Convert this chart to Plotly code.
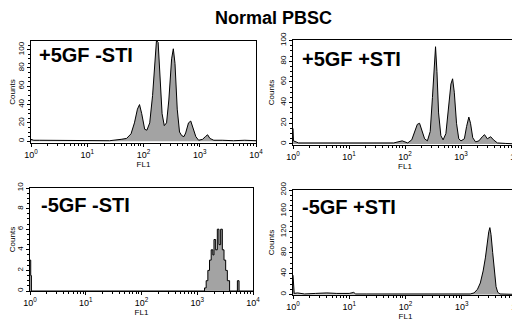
import plotly.graph_objects as go

# ---- data (FL1 channel value, counts) ----
p1_fl1 = [1, 1.12, 1.41, 2, 3.16, 6.3, 10, 15.8, 25, 40, 50, 60, 69, 78, 85, 93, 105, 115, 129, 145,
          158, 170, 182, 195, 214, 234, 257, 282, 316, 339, 363, 398, 437, 479, 525, 562, 631, 692,
          759, 851, 955, 1122, 1259, 1380, 1514, 1778, 2512, 3981, 6310, 10000]
p1_cnt = [2, 1, 1, 1, 0.5, 1, 0.5, 1, 0.5, 2, 3, 8, 20, 35, 40, 30, 13, 12, 20, 50,
          90, 110, 108, 70, 30, 17, 20, 45, 90, 101, 85, 35, 10, 6, 5, 9, 20, 22,
          15, 5, 1, 2, 5, 7, 3, 1, 1, 0.5, 1, 0.5]

p2_fl1 = [1, 1.02, 1.26, 2, 4, 7.9, 15.8, 31.6, 63, 89, 112, 132, 151, 166, 182, 200, 224, 251, 282,
          309, 331, 351, 372, 398, 437, 479, 537, 603, 661, 708, 759, 832, 912, 1000, 1148, 1259,
          1380, 1479, 1622, 1820, 2089, 2399, 2630, 2951, 3388, 3802, 4467, 6310, 10000]
p2_cnt = [15, 3, 1, 1, 0.5, 1, 0.5, 1, 1, 3, 1, 4, 12, 19, 20, 12, 5, 3, 12,
          45, 75, 94, 70, 30, 8, 4, 10, 35, 58, 63, 50, 20, 5, 3, 5, 17,
          26, 20, 6, 2, 3, 7, 9, 5, 7, 4, 1, 0.5, 0]

p3_fl1 = [1, 1.03, 1.06, 1349, 1445, 1549, 1660, 1778, 1905, 1995, 2138, 2291, 2455, 2630, 2818,
          3020, 3236, 3467, 3802, 5248, 5623, 10000]
p3_cnt = [3, 1.5, 0, 0.3, 1, 2, 3, 4, 3.5, 5, 4, 6, 4.5, 6, 4,
          3, 2, 1, 0, 1, 0, 0]

p4_fl1 = [1, 1.02, 1.05, 1.2, 1.6, 2.5, 4, 6, 10, 12, 13, 20, 50, 100, 300, 1000, 1413, 1660, 1905,
          2138, 2399, 2630, 2818, 3020, 3162, 3311, 3548, 3802, 4074, 4365, 4786, 10000]
p4_cnt = [37, 10, 2, 3, 1, 2, 3, 2, 2, 4, 1, 1, 1, 1, 1, 2, 1, 3, 10,
          22, 45, 70, 100, 120, 128, 115, 80, 40, 15, 4, 1, 0]

panel_labels = ["+5GF -STI", "+5GF +STI", "-5GF -STI", "-5GF +STI"]
y_tickvals = [[0, 20, 40, 60, 80, 100], [0, 20, 40, 60, 80, 100],
              [0, 2, 4, 6, 8, 10], [0, 40, 80, 120, 160, 200]]
x_tickvals = [1, 10, 100, 1000, 10000]
x_ticktext = ["10<sup>0</sup>", "10<sup>1</sup>", "10<sup>2</sup>", "10<sup>3</sup>", "10<sup>4</sup>"]
title = "Normal PBSC"

FONT = "Liberation Sans, Arial, sans-serif"

# ---- layout geometry (pixels) ----
W, H = 520, 328
boxes = [(23, 248, 33, 135), (285, 509, 32, 137), (22, 245, 180, 283), (285, 510, 182, 287)]
label_pos = [(30, 47), (293, 51), (32, 197), (293, 199)]
yranges = [[-2, 109.5], [-1, 100.5], [0, 10], [-1, 200]]
shapes = ["linear", "linear", "hv", "linear"]
datasets = [(p1_fl1, p1_cnt), (p2_fl1, p2_cnt), (p3_fl1, p3_cnt), (p4_fl1, p4_cnt)]

minor_vals = [m * 10 ** d for d in range(4) for m in range(2, 10)]

fig = go.Figure()
for i, ((xs, ys), shp) in enumerate(zip(datasets, shapes)):
    n = "" if i == 0 else str(i + 1)
    fig.add_trace(go.Scatter(
        x=xs, y=ys, mode="lines", line=dict(color="black", width=1, shape=shp),
        fill="tozeroy", fillcolor="#a3a3a3", xaxis="x" + n, yaxis="y" + n,
        showlegend=False, hoverinfo="skip"))
    x0, x1, y0, y1 = boxes[i]
    ystep = y_tickvals[i][1] - y_tickvals[i][0]
    fig.update_layout(**{
        "xaxis" + n: dict(
            type="log", range=[0, 4], domain=[x0 / W, x1 / W], anchor="y" + n,
            automargin=False,
            tickvals=x_tickvals, ticktext=x_ticktext, ticks="outside", ticklen=3,
            tickcolor="black", showline=True, linecolor="black", linewidth=1, mirror=True,
            showgrid=False, zeroline=False,
            tickfont=dict(family=FONT, size=9, color="black"),
            minor=dict(tickvals=minor_vals, ticks="outside", ticklen=2, tickcolor="black",
                       showgrid=False),
            title=dict(text="FL1", font=dict(family=FONT, size=8, color="black"), standoff=0),
        ),
        "yaxis" + n: dict(
            range=yranges[i], domain=[1 - y1 / H, 1 - y0 / H], anchor="x" + n,
            automargin=False,
            tickvals=y_tickvals[i], ticks="outside", ticklen=3, tickcolor="black",
            tickangle=-90, showline=True, linecolor="black", linewidth=1, mirror=True,
            showgrid=False, zeroline=False,
            tickfont=dict(family=FONT, size=8, color="black"),
            minor=dict(dtick=ystep / 4, tick0=0, ticks="outside", ticklen=2,
                       tickcolor="black", showgrid=False),
            title=dict(text="Counts", font=dict(family=FONT, size=8, color="black"), standoff=2),
        ),
    })
    lx, ly = label_pos[i]
    fig.add_annotation(text="<b>" + panel_labels[i] + "</b>", xref="paper", yref="paper",
                       x=lx / W, y=1 - ly / H, xanchor="left", yanchor="middle",
                       showarrow=False, borderpad=0,
                       font=dict(family=FONT, size=20, color="black"))

fig.add_annotation(text="<b>" + title + "</b>", xref="paper", yref="paper", x=265 / W,
                   y=1 - 10 / H, xanchor="center", yanchor="middle", showarrow=False,
                   borderpad=0, font=dict(family=FONT, size=18, color="black"))

fig.update_layout(width=W, height=H, margin=dict(l=0, r=0, t=0, b=0),
                  paper_bgcolor="white", plot_bgcolor="white")
fig.write_html("out.html")
